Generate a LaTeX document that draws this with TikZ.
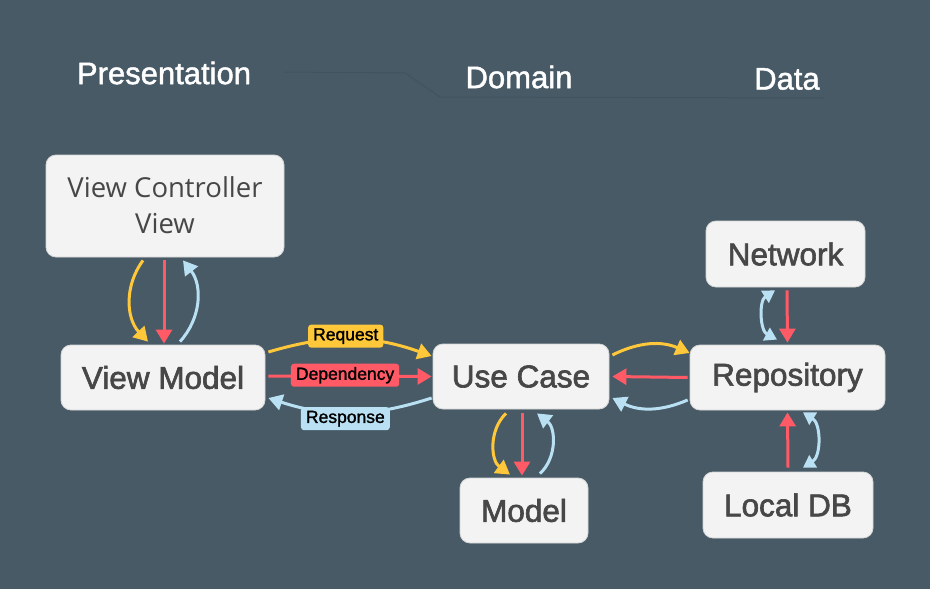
\documentclass[tikz,border=0pt]{standalone}
\usepackage{fontspec}
\setmainfont{Liberation Sans}
\newfontfamily\boxfont{Liberation Sans}[FakeBold=2]
\newfontfamily\labfont{Liberation Sans}[FakeBold=1.5]
\newfontfamily\vcfont{Open Sans}
\usetikzlibrary{arrows.meta}
\definecolor{bg}{HTML}{475A66}
\definecolor{faint}{HTML}{42535D}
\definecolor{boxfill}{HTML}{F3F3F3}
\definecolor{boxline}{HTML}{D6D6D6}
\definecolor{txt}{HTML}{474747}
\definecolor{yel}{HTML}{FFC83A}
\definecolor{redc}{HTML}{FF5A66}
\definecolor{blu}{HTML}{B9E1F3}
\tikzset{
  box/.style={draw=boxline, line width=0.8pt, fill=boxfill, rounded corners=10pt,
    text=txt, font=\boxfont\fontsize{31.5}{36}\selectfont, inner sep=0pt, align=center},
  title/.style={text=white, font=\labfont\fontsize{31}{34}\selectfont, inner sep=0pt},
  conn/.style={line width=3pt, -{Triangle[length=14pt,width=16pt]}},
  dconn/.style={line width=3pt, {Triangle[length=12pt,width=14pt]}-{Triangle[length=12pt,width=14pt]}},
  lab/.style={rounded corners=3pt, text=black, font=\labfont\fontsize{17.5}{18}\selectfont,
    inner xsep=5pt, minimum height=23pt, inner ysep=0pt},
}
\begin{document}
\begin{tikzpicture}[x=1pt,y=-1pt]
\useasboundingbox[fill=bg] (0,0) rectangle (930,589);
% header faint line
\coordinate (h1) at (285,72);
\coordinate (h2) at (405,73);
\coordinate (h3) at (440,97);
\coordinate (h4) at (824,98);
\draw[faint, line width=1pt] (h1) -- (h2) -- (h3) -- (h4);
% titles
\node[title] (tp) at (164,73) {Presentation};
\node[title] (td) at (519,77) {Domain};
\node[title] (tda) at (787,79) {Data};
% boxes
\node[box, minimum width=238pt, minimum height=102pt, font=\vcfont\fontsize{27.5}{36}\selectfont] (vcv) at (165,206) {\raisebox{2pt}{View Controller}\\\raisebox{2pt}{View}};
\node[box, minimum width=204pt, minimum height=65pt] (vm) at (163,377.5) {View Model};
\node[box, minimum width=176pt, minimum height=65pt] (uc) at (521,376.5) {Use Case};
\node[box, minimum width=128pt, minimum height=65pt] (model) at (524,510.5) {Model};
\node[box, minimum width=195pt, minimum height=65pt] (repo) at (787.5,377.5) {Repository};
\node[box, minimum width=159pt, minimum height=66pt] (net) at (785.5,254) {Network};
\node[box, minimum width=170pt, minimum height=66pt] (ldb) at (788,505) {Local DB};
% VCV <-> VM
\draw[conn, yel] ([xshift=-22pt,yshift=-3pt]vcv.south) to[bend right=40] ([xshift=-15pt,yshift=3pt]vm.north);
\draw[conn, redc] ([xshift=-1pt,yshift=-3pt]vcv.south) -- ([xshift=1pt,yshift=1pt]vm.north);
\draw[conn, blu] ([xshift=17pt,yshift=3pt]vm.north) to[bend right=40] ([xshift=18pt,yshift=-3pt]vcv.south);
% VM <-> UC
\draw[conn, yel] ([xshift=3pt,yshift=25.5pt]vm.east) to[bend left=18]
  node[lab, fill=yel, pos=0.47, yshift=3pt] (lreq) {Request} ([xshift=-1pt,yshift=20.5pt]uc.west);
\draw[conn, redc] ([xshift=3pt,yshift=1.5pt]vm.east) --
  node[lab, fill=redc, pos=0.47, yshift=1pt] (ldep) {Dependency} ([xshift=-1pt]uc.west);
\draw[conn, blu] ([xshift=-1pt,yshift=-21.5pt]uc.west) to[bend left=18]
  node[lab, fill=blu, pos=0.53, yshift=-6pt] (lres) {Response} ([xshift=3pt,yshift=-20.5pt]vm.east);
% UC <-> Repo
\draw[conn, yel] ([xshift=3pt,yshift=21.5pt]uc.east) to[bend left=25] ([yshift=24.5pt]repo.west);
\draw[conn, redc] ([xshift=-2pt]repo.west) -- ([xshift=3pt]uc.east);
\draw[conn, blu] ([xshift=-2pt,yshift=-22.5pt]repo.west) to[bend left=25] ([xshift=3pt,yshift=-21.5pt]uc.east);
% UC <-> Model
\draw[conn, yel] ([xshift=-15pt,yshift=-4pt]uc.south) to[bend right=50] ([xshift=-14pt,yshift=3pt]model.north);
\draw[conn, redc] ([xshift=1pt,yshift=-4pt]uc.south) -- ([xshift=-2pt,yshift=2pt]model.north);
\draw[conn, blu] ([xshift=16pt,yshift=4pt]model.north) to[bend right=50] ([xshift=16pt,yshift=-4pt]uc.south);
% Network <-> Repo
\draw[dconn, blu] ([xshift=-10.5pt,yshift=-3pt]net.south) to[bend right=60] ([xshift=-10.5pt,yshift=5pt]repo.north);
\draw[conn, redc] ([xshift=1.5pt,yshift=-3pt]net.south) -- ([yshift=2pt]repo.north);
% Local DB <-> Repo
\draw[conn, redc] ([yshift=4pt]ldb.north) -- ([yshift=-2pt]repo.south);
\draw[dconn, blu] ([xshift=15.5pt,yshift=-2pt]repo.south) to[bend left=58] ([xshift=15pt,yshift=4pt]ldb.north);
\end{tikzpicture}
\end{document}
